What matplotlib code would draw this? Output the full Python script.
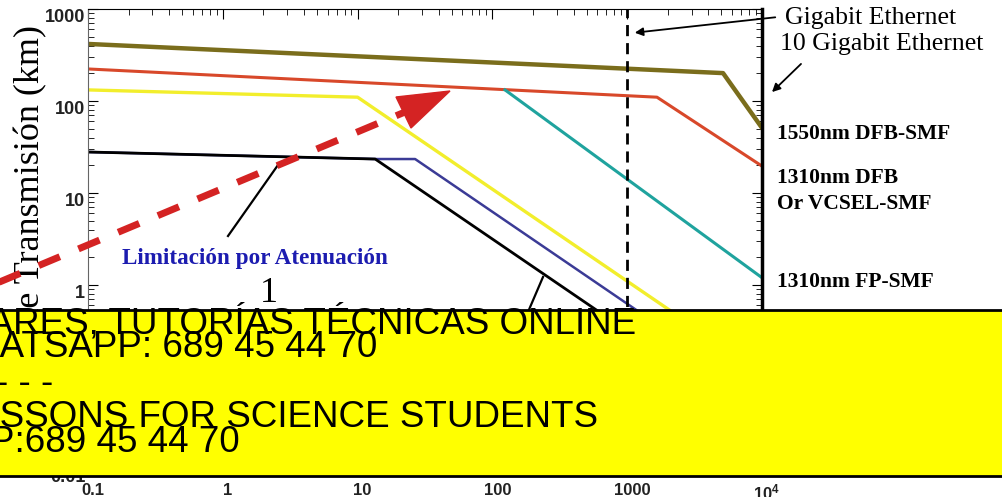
import numpy as np
import matplotlib
matplotlib.use("Agg")
import matplotlib.pyplot as plt
from matplotlib.patches import Rectangle, Polygon, FancyArrowPatch
from matplotlib.lines import Line2D
from matplotlib.transforms import ScaledTranslation

plt.rcParams['mathtext.fontset'] = 'custom'
plt.rcParams['mathtext.bf'] = 'Liberation Sans:bold'
plt.rcParams['mathtext.rm'] = 'Liberation Sans'

# curves (distance km vs bit rate)
x_1550 = [0.1, 5140, 1e4]
y_1550 = [417, 201, 51]
x_1310dfb = [0.1, 1663, 1e4]
y_1310dfb = [223, 110, 19.6]
x_1310fp = [124, 1e4]
y_1310fp = [132, 1.2]
x_yellow = [0.1, 10, 1e4]
y_yellow = [132, 110, 0.11]
x_blue = [0.1, 13.5, 26.7, 1e4]
y_blue = [27.9, 23.4, 23.4, 0.0625]
x_black = [0.1, 13.5, 1e4]
y_black = [27.9, 23.4, 0.0316]
gbe_x = 1000

xticks = [0.1, 1, 10, 100, 1000, 1e4]
xticklabels = ['0.1', '1', '10', '100', '1000', r'$\mathbf{10^4}$']
yticks = [0.01, 0.1, 1, 10, 100, 1000]
yticklabels = ['0.01', '0.1', '1', '10', '100', '1000']

box_lines = ["CLASES PARTICULARES, TUTORÍAS TÉCNICAS ONLINE",
             "ENVÍA WHATSAPP: 689 45 44 70",
             "- - - - - - -",
             "ONLINE PRIVATE LESSONS FOR SCIENCE STUDENTS",
             "CALL OR WHATSAPP:689 45 44 70"]
box_right = [636, 377, 53, 598, 240]
box_base = [333, 357, 393, 427, 452]

W, H = 1002, 497
def fp(x, y):
    return (x / W, 1 - y / H)

fig = plt.figure(figsize=(W / 100, H / 100), dpi=100)
ax = fig.add_axes([88 / W, 1 - 469 / H, (762 - 88) / W, (469 - 9) / H])
ax.set_xscale('log')
ax.set_yscale('log')

ax.plot(x_1550, y_1550, color='#7a6d1c', lw=3.2)
ax.plot(x_1310dfb, y_1310dfb, color='#d8482a', lw=2.2)
ax.plot(x_1310fp, y_1310fp, color='#1fa39e', lw=2.2)
ax.plot(x_yellow, y_yellow, color='#f2ee2c', lw=2.4)
ax.plot(x_blue, y_blue, color='#3b3b96', lw=1.8)
ax.plot(x_black, y_black, color='black', lw=2.0)
ax.axvline(gbe_x, color='black', lw=2, dashes=(4, 2.5))

ax.set_xlim(0.1, 1e4)
ax.set_ylim(0.01, 1000)
ax.set_xticks(xticks)
ax.set_xticklabels(xticklabels, fontsize=12, fontweight='bold', family='Liberation Sans', color='#222222')
ax.set_yticks(yticks)
ax.set_yticklabels(yticklabels, fontsize=13, fontweight='bold', family='Liberation Sans', color='#222222')
ax.tick_params(which='both', direction='in', top=True, right=True)
ax.tick_params(which='major', length=7)
ax.tick_params(which='minor', length=4)
ax.tick_params(axis='x', pad=10)
ax.tick_params(axis='y', pad=2)
yoff = ScaledTranslation(0, -6 / 100, fig.dpi_scale_trans)
for lab in ax.get_yticklabels():
    lab.set_transform(lab.get_transform() + yoff)
xoff = ScaledTranslation(5 / 100, 0, fig.dpi_scale_trans)
for lab in ax.get_xticklabels():
    lab.set_transform(lab.get_transform() + xoff)
ax.spines['left'].set_color('#666666')
ax.spines['right'].set_linewidth(2.5)

# y label
fig.text(31 / W, 1 - 25 / H, "Distancia de Transmisión (km)", rotation=90,
         ha='center', va='top', fontsize=26, family='Liberation Serif')

# annotations
fig.text(*fp(122, 264), "Limitación por Atenuación", fontsize=16.7, fontweight='bold',
         family='Liberation Serif', color='#1c1cb0', va='baseline')
fig.text(*fp(269, 302), "1", fontsize=26, family='Liberation Serif', ha='center', va='baseline')
fig.add_artist(Line2D(*zip(fp(228, 236), fp(278, 165)), transform=fig.transFigure, color='black', lw=1.6))
fig.add_artist(Line2D(*zip(fp(543, 277), fp(528, 312)), transform=fig.transFigure, color='black', lw=1.6))

# red dashed arrow
fig.add_artist(Line2D(*zip(fp(-10, 286), fp(405, 112)), transform=fig.transFigure,
                      color='#d42323', lw=5, dashes=(3.3, 2.9), zorder=5))
fig.add_artist(Polygon([fp(450, 91), fp(396, 97), fp(411, 128)], closed=True,
                       transform=fig.transFigure, color='#d42323', zorder=5))

# right side labels
fig.text(*fp(785, 24), "Gigabit Ethernet", fontsize=18.5, family='Liberation Serif', va='baseline')
fig.text(*fp(780, 50), "10 Gigabit Ethernet", fontsize=18.5, family='Liberation Serif', va='baseline')
fig.add_artist(FancyArrowPatch(fp(778, 17), fp(632, 33), transform=fig.transFigure,
                               arrowstyle='-|>', mutation_scale=12, lw=1.3, color='black'))
fig.add_artist(FancyArrowPatch(fp(803, 62), fp(770, 94), transform=fig.transFigure,
                               arrowstyle='-|>', mutation_scale=12, lw=1.3, color='black'))
for txt, yb in [("1550nm DFB-SMF", 139), ("1310nm DFB", 183), ("Or VCSEL-SMF", 209), ("1310nm FP-SMF", 287)]:
    fig.text(*fp(777, yb), txt, fontsize=15.5, fontweight='bold', family='Liberation Serif', va='baseline')

# yellow banner
fig.add_artist(Rectangle(fp(-5, 476), 1012 / W, 166 / H, transform=fig.transFigure,
                         facecolor='#ffff00', edgecolor='black', lw=2, zorder=10))
for txt, xr, yb in zip(box_lines, box_right, box_base):
    t = fig.text(*fp(xr, yb), txt, fontsize=26.5, family='Liberation Sans', ha='right',
                 va='baseline', color='black')
    t.set_zorder(11)

fig.savefig('out.png', dpi=100)
